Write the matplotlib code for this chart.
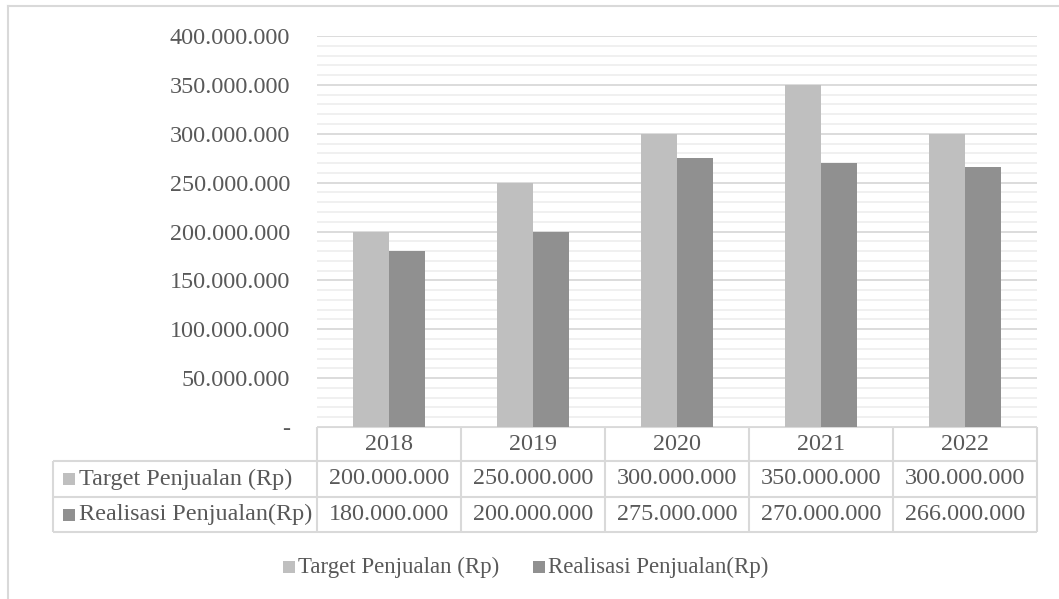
import matplotlib.pyplot as plt
import matplotlib.ticker as ticker
from matplotlib.patches import Rectangle

# Sales target vs. realisation per year (Rp)
years = ["2018", "2019", "2020", "2021", "2022"]
target = [200000000, 250000000, 300000000, 350000000, 300000000]
realisasi = [180000000, 200000000, 275000000, 270000000, 266000000]
series_names = ["Target Penjualan (Rp)", "Realisasi Penjualan(Rp)"]
series_colors = ["#bfbfbf", "#909090"]

TEXT = "#595959"
GRID = "#d9d9d9"
MINOR = "#efefef"
FS = 17.4
FS_LEG = 16.5

W, H = 1059, 599
plt.rcParams["font.family"] = "serif"
plt.rcParams["font.serif"] = ["Liberation Serif", "Times New Roman", "DejaVu Serif"]


def rp(v):
    return "-" if v == 0 else f"{v:,.0f}".replace(",", ".")


fig = plt.figure(figsize=(W / 100, H / 100), dpi=100)

# plot area in pixels
left, right, top, bottom = 317, 1037, 36, 427
ax = fig.add_axes([left / W, 1 - bottom / H, (right - left) / W, (bottom - top) / H])

x = list(range(len(years)))
bw = 0.25
ax.bar([i - bw / 2 for i in x], target, width=bw, color=series_colors[0], zorder=3)
ax.bar([i + bw / 2 for i in x], realisasi, width=bw, color=series_colors[1], zorder=3)

ax.set_xlim(-0.5, len(years) - 0.5)
ax.set_ylim(0, 400000000)
ax.yaxis.set_major_locator(ticker.MultipleLocator(50000000))
ax.yaxis.set_minor_locator(ticker.MultipleLocator(10000000))
ax.yaxis.set_major_formatter(ticker.FuncFormatter(lambda v, p: rp(v)))
ax.grid(True, which="major", axis="y", color=GRID, lw=1.3, zorder=1)
ax.grid(True, which="minor", axis="y", color=MINOR, lw=1.3, zorder=0)
ax.tick_params(axis="y", which="both", length=0, pad=19.5, labelsize=FS, labelcolor=TEXT)
ax.tick_params(axis="x", which="both", length=0, labelbottom=False)
for s in ax.spines.values():
    s.set_visible(False)

# overlay in pixel coordinates for the data table, legend and frame
ov = fig.add_axes([0, 0, 1, 1], zorder=-1)
ov.set_xlim(0, W)
ov.set_ylim(H, 0)
ov.axis("off")
ov.patch.set_alpha(0)

ov.plot([8, 8], [6, H], color=GRID, lw=1.5)
ov.plot([8, W], [6, 6], color=GRID, lw=1.5)

col_w = (right - left) / len(years)
cols = [left + i * col_w for i in range(len(years) + 1)]
rows = [bottom, 461, 497, 532]
tab_left = 53
lkw = dict(color=GRID, lw=1.5, solid_capstyle="butt")

ov.plot([left, right], [rows[0], rows[0]], **lkw)
for yv in rows[1:]:
    ov.plot([tab_left, right], [yv, yv], **lkw)
ov.plot([tab_left, tab_left], [rows[1], rows[3]], **lkw)
for xv in cols:
    ov.plot([xv, xv], [rows[0], rows[3]], **lkw)

for i, yr in enumerate(years):
    cx = (cols[i] + cols[i + 1]) / 2
    ov.text(cx, (rows[0] + rows[1]) / 2 + 1, yr, ha="center", va="center",
            fontsize=FS, color=TEXT)
    ov.text(cx, (rows[1] + rows[2]) / 2, rp(target[i]), ha="center", va="center",
            fontsize=FS, color=TEXT)
    ov.text(cx, (rows[2] + rows[3]) / 2, rp(realisasi[i]), ha="center", va="center",
            fontsize=FS, color=TEXT)

for r, (name, col) in enumerate(zip(series_names, series_colors)):
    cy = (rows[r + 1] + rows[r + 2]) / 2
    ov.add_patch(Rectangle((63, cy - 6), 12, 12, color=col, lw=0))
    ov.text(79, cy, name, ha="left", va="center", fontsize=FS, color=TEXT)

# legend below the table
ly = 567
for lx, name, col in [(283, series_names[0], series_colors[0]),
                      (533, series_names[1], series_colors[1])]:
    ov.add_patch(Rectangle((lx, ly - 6), 12, 12, color=col, lw=0))
    ov.text(lx + 15, ly, name, ha="left", va="center", fontsize=FS_LEG, color=TEXT)

fig.savefig("out.png", dpi=100, facecolor="white")
